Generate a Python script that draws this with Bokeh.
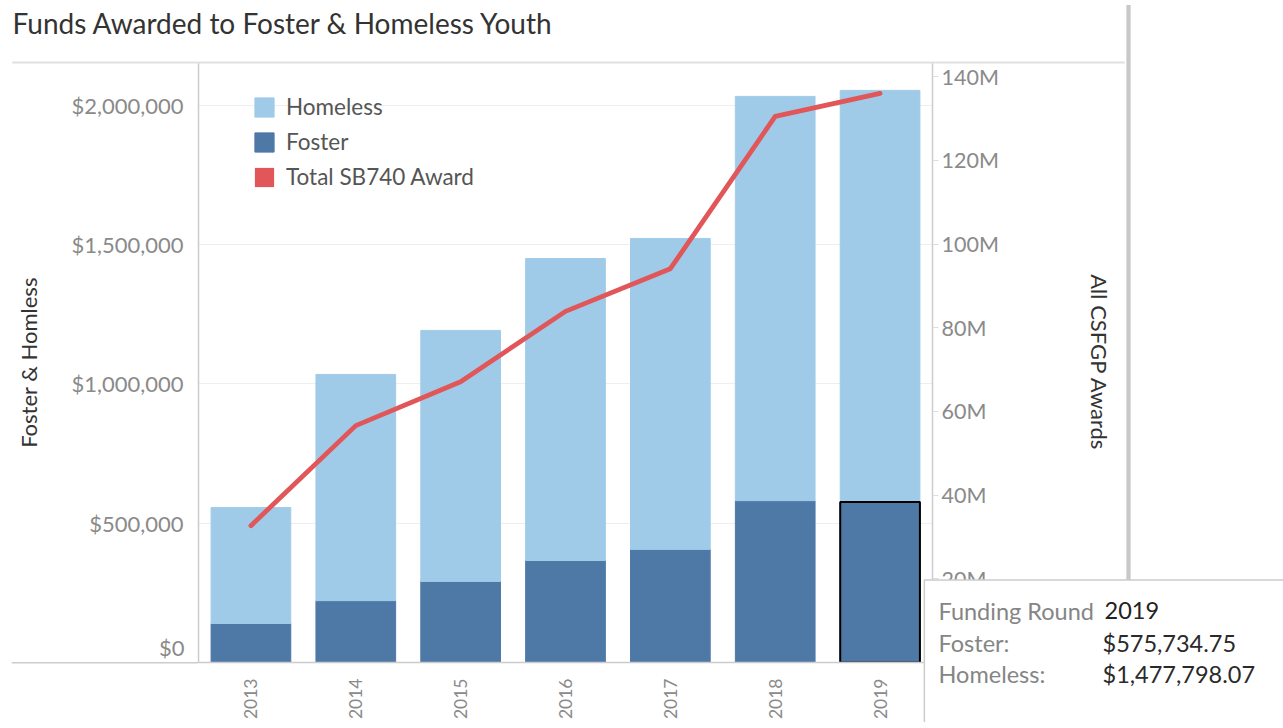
import math
from bokeh.plotting import figure
from bokeh.models import (ColumnDataSource, Range1d, LinearAxis, FixedTicker,
                          NumeralTickFormatter, Legend, LegendItem,
                          Label, CDSView, IndexFilter)
from bokeh.embed import file_html
from bokeh.resources import INLINE

# ---- data ----
years = ["2013", "2014", "2015", "2016", "2017", "2018", "2019"]
foster = [140000, 222000, 291000, 366000, 406000, 581000, 575734.75]
homeless = [416000, 812000, 901000, 1084000, 1116000, 1451000, 1477798.07]
total_sb740 = [32.7e6, 56.6e6, 67.1e6, 83.9e6, 94.1e6, 130.5e6, 136.0e6]
left_ticks = [0, 500000, 1000000, 1500000, 2000000]
right_ticks = [0, 20e6, 40e6, 60e6, 80e6, 100e6, 120e6, 140e6]
right_tick_labels = ["0M", "20M", "40M", "60M", "80M", "100M", "120M", "140M"]
zero_label = "$0"
tooltip_year = "2019"
title_text = "Funds Awarded to Foster & Homeless Youth"

FONT = "Lato"
C_HOME = "#A0CBE8"
C_FOST = "#4E79A7"
C_LINE = "#E15759"
C_TICK = "#8a8a8a"

stack_top = [f + h for f, h in zip(foster, homeless)]
src = ColumnDataSource(data=dict(year=years, foster=foster, homeless=homeless,
                                 top=stack_top, total=total_sb740))

p = figure(x_range=years, y_range=Range1d(0, 2153600),
           frame_width=734, frame_height=600,
           output_backend="svg", toolbar_location=None,
           min_border_left=198, min_border_right=335, min_border_top=62,
           min_border_bottom=50)
p.extra_y_ranges = {"sb740": Range1d(0, 143.37e6)}
p.outline_line_color = None
p.background_fill_color = "white"

r_fost = p.vbar(x="year", bottom=0, top="foster", width=0.76, source=src,
                fill_color=C_FOST, line_color=C_FOST)
r_home = p.vbar(x="year", bottom="foster", top="top", width=0.76, source=src,
                fill_color=C_HOME, line_color=C_HOME)
sel = CDSView(filter=IndexFilter([years.index(tooltip_year)]))
p.vbar(x="year", bottom=0, top="foster", width=0.76, source=src, view=sel,
       fill_color=C_FOST, line_color="black", line_width=2)
r_line = p.line(x="year", y="total", source=src, y_range_name="sb740",
                line_color=C_LINE, line_width=4.8, line_join="round", line_cap="round")
# zero-height swatch renderer for the legend's red square
r_swatch = p.vbar(x="year", bottom=0, top=0, width=0.76, source=src,
                  fill_color=C_LINE, line_color=None)

# grids
p.xgrid.grid_line_color = None
p.ygrid.grid_line_color = "#eeeeee"
p.ygrid.ticker = FixedTicker(ticks=left_ticks)

# left axis ($0 is drawn separately, lifted above the baseline as in the original)
ya = p.yaxis[0]
ya.ticker = FixedTicker(ticks=left_ticks)
ya.formatter = NumeralTickFormatter(format="$0,0")
ya.major_label_overrides = {0: ""}
ya.axis_line_color = "#cccccc"
ya.axis_line_width = 1.5
ya.major_tick_line_color = None
ya.minor_tick_line_color = None
ya.major_label_standoff = 9
ya.major_label_text_color = C_TICK
ya.major_label_text_font = FONT
ya.major_label_text_font_size = "22px"
ya.axis_label = "Foster & Homless"
ya.axis_label_text_font = FONT
ya.axis_label_text_font_style = "normal"
ya.axis_label_text_font_size = "22px"
ya.axis_label_text_color = "#333333"
ya.axis_label_standoff = 26

# right axis
ra = LinearAxis(y_range_name="sb740", ticker=FixedTicker(ticks=right_ticks),
                major_label_overrides={t: l for t, l in zip(right_ticks, right_tick_labels)})
ra.axis_line_color = "#cccccc"
ra.axis_line_width = 1.5
ra.major_tick_in = 0
ra.major_tick_out = 6
ra.major_tick_line_color = "#dddddd"
ra.minor_tick_line_color = None
ra.major_label_standoff = 3
ra.major_label_text_color = C_TICK
ra.major_label_text_font = FONT
ra.major_label_text_font_size = "21.5px"
ra.axis_label = "All CSFGP Awards"
ra.axis_label_text_font = FONT
ra.axis_label_text_font_style = "normal"
ra.axis_label_text_font_size = "22px"
ra.axis_label_text_color = "#333333"
ra.axis_label_standoff = 84
p.add_layout(ra, "right")

# x axis
xa = p.xaxis[0]
xa.axis_line_color = "#cccccc"
xa.axis_line_width = 1.5
xa.major_tick_line_color = None
xa.minor_tick_line_color = None
xa.major_label_orientation = math.pi / 2
xa.major_label_text_color = C_TICK
xa.major_label_text_font = FONT
xa.major_label_text_font_size = "17.5px"
xa.major_label_standoff = 10

# legend
legend = Legend(items=[LegendItem(label="Homeless", renderers=[r_home]),
                       LegendItem(label="Foster", renderers=[r_fost]),
                       LegendItem(label="Total SB740 Award", renderers=[r_swatch])],
                location=(54, 472), glyph_width=24, glyph_height=24, spacing=8,
                label_standoff=10, label_text_font=FONT, label_text_font_size="22.5px",
                label_text_color="#555555", border_line_color=None,
                background_fill_alpha=0, padding=10)
p.add_layout(legend)


def ctext(x, y, text, **kw):
    # text in canvas pixels, in a side panel so it is not clipped to the frame
    p.add_layout(Label(x=x, y=y, x_units="canvas", y_units="canvas", text=text,
                       text_font=FONT, text_baseline="middle", **kw), "right")


def cbox(l, r, t, b, **kw):
    # plain box drawn as the padded background of an empty label
    w, h = r - l, b - t
    if h <= 6:
        pad_v, fs = 0, h / 1.2
    else:
        pad_v, fs = int(h // 2), 1
    p.add_layout(Label(x=(l + r) / 2, y=(t + b) / 2, x_units="canvas", y_units="canvas",
                       text=" ", text_font_size=f"{fs:.2f}px", text_align="center",
                       text_baseline="middle", padding=(int(w // 2), pad_v),
                       **kw), "right")


# title
ctext(12, 22, title_text, text_font_size="28px", text_color="#333333")

# decorations
cbox(12, 1124, 61, 63, background_fill_color="#e0e0e0")     # rule under title
cbox(11, 198, 661.5, 663, background_fill_color="#cccccc")  # baseline extension
cbox(1126, 1130, 5, 741, background_fill_color="#c8c8c8")   # sheet divider

# "$0" tick label, sitting just above the baseline
ctext(184, 647, zero_label, text_font_size="22px", text_color=C_TICK, text_align="right")

# tooltip
ti = years.index(tooltip_year)
cbox(924, 1300, 580, 780, background_fill_color="white",
     border_line_color="#cccccc", border_line_width=1.5)
rows = [("Funding Round", years[ti], 610),
        ("Foster:", "${:,.2f}".format(foster[ti]), 642),
        ("Homeless:", "${:,.2f}".format(homeless[ti]), 673)]
for i, (k, v, yy) in enumerate(rows):
    ctext(938, yy, k, text_font_size="23.5px", text_color="#858585")
    ctext(1104 if i == 0 else 1102, yy, v, text_font_size="23.5px",
          text_color="#222222" if i == 0 else "#2a2a2a")

open("out.html", "w").write(file_html(p, INLINE))
